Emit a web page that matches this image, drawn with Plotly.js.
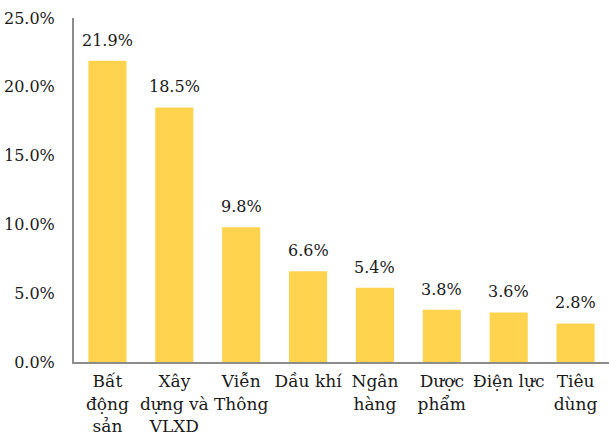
<!DOCTYPE html>
<html><head><meta charset="utf-8">
<script src="https://cdn.plot.ly/plotly-3.0.1.min.js"></script>
<style>html,body{margin:0;padding:0;background:#fff}</style>
</head><body>
<div id="chart" style="width:609px;height:438px"></div>
<script>
const categories = ["Bất<br>động<br>sản","Xây<br>dựng và<br>VLXD","Viễn<br>Thông","Dầu khí","Ngân<br>hàng","Dược<br>phẩm","Điện lực","Tiêu<br>dùng"];
const values = [21.9, 18.5, 9.8, 6.6, 5.4, 3.8, 3.6, 2.8];
const yTicks = [0, 5, 10, 15, 20, 25];
const yTickLabels = ["0.0%","5.0%","10.0%","15.0%","20.0%","25.0%"];

const fam = "DejaVu Serif, Liberation Serif, serif";
const font = {family: fam, size: 16, color: "#1a1a1a"};
const xfont = {family: fam, size: 17, color: "#1a1a1a"};

const annotations = categories.map((c, i) => ({
  x: c, y: values[i], xref: "x", yref: "y",
  text: values[i].toFixed(1) + "%",
  showarrow: false, yanchor: "bottom", yshift: 9,
  font: font
}));

Plotly.newPlot("chart", [{
  type: "bar",
  x: categories,
  y: values,
  marker: {color: "#FFD34E"},
  cliponaxis: false,
  hoverinfo: "none"
}], {
  width: 609, height: 438,
  margin: {l: 74, r: 0, t: 18, b: 76},
  paper_bgcolor: "#fff", plot_bgcolor: "#fff",
  font: font,
  bargap: 0.43,
  showlegend: false,
  annotations: annotations,
  xaxis: {
    showline: true, linecolor: "#8c8c8c", linewidth: 2,
    ticks: "", tickfont: xfont, showgrid: false, fixedrange: true,
    ticklabelstandoff: 3
  },
  yaxis: {
    range: [0, 25], tickvals: yTicks, ticktext: yTickLabels,
    showline: true, linecolor: "#8c8c8c", linewidth: 2,
    showgrid: false, zeroline: false, ticks: "", ticklabelstandoff: 14,
    tickfont: font, fixedrange: true
  }
}, {displayModeBar: false, staticPlot: true});
</script>
</body></html>
